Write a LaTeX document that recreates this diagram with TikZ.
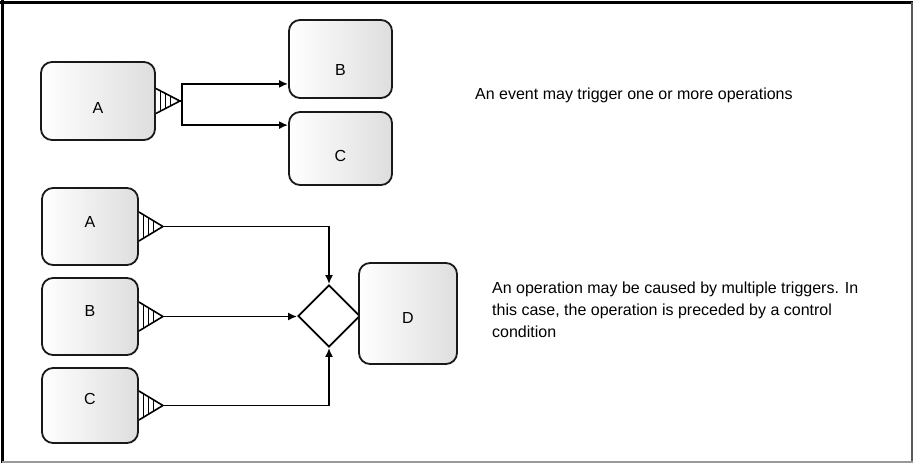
\documentclass[tikz,border=0pt]{standalone}
\usepackage{fontspec}
\setmainfont{Liberation Sans}
\usetikzlibrary{arrows.meta,shapes.geometric}

% hatched trigger on the right side of a box: box, half height, apex name
\newcommand{\trigger}[3]{%
  \draw[line width=1.6pt,line join=round,fill=white]
    ([yshift=#2]#1.east) -- ++(24,#2) coordinate (#3) -- ([yshift=-#2]#1.east);
  \foreach \d in {5,10,15}
    \draw[line width=1.1pt] ([shift={(\d,{#2*(1-\d/24)})}]#1.east)
      -- ([shift={(\d,{-#2*(1-\d/24)})}]#1.east);
}

\begin{document}
\begin{tikzpicture}[x=1pt,y=-1pt,>={Latex[length=9pt,width=8pt]},
    font=\fontsize{16}{16}\selectfont,
    opbox/.style={draw=black!90,line width=1.8pt,rounded corners=11pt,
      left color=white,right color=black!13,inner sep=0pt},
    flow/.style={line width=1.8pt,->},
    note/.style={anchor=north west,inner sep=0pt,align=left,
      font=\fontsize{16}{21.7}\selectfont}]
  \useasboundingbox (0,0) rectangle (913,463);
  % frame
  \draw[line width=3pt] (0,2.5) -- (913,2.5);
  \draw[line width=3pt] (2.5,0) -- (2.5,463);
  \draw[line width=2pt,black!65] (912,2) -- (912,463);
  \draw[line width=2pt,black!40] (2,462) -- (913,462);
  % one event, several operations
  \node[opbox,minimum width=114,minimum height=78,label={[yshift=-7]center:A}] (a1) at (98,101) {};
  \node[opbox,minimum width=103,minimum height=78,label={[yshift=-11]center:B}] (b1) at (340.5,59) {};
  \node[opbox,minimum width=103,minimum height=73,label={[yshift=-7]center:C}] (c1) at (340.5,148.5) {};
  \trigger{a1}{12.5}{a1t}
  \draw[line width=1.8pt] (a1t) -- ++(2,0) coordinate (fork);
  \draw[flow] (fork) |- ([yshift=15]b1.south west);
  \draw[flow] (fork) |- ([yshift=-14]c1.north west);
  \node[note] (note1) at (475,87.5) {An event may trigger one or more operations};
  % several triggers, one operation
  \node[opbox,minimum width=96,minimum height=77,label={[yshift=5]center:A}] (a2) at (90,226.5) {};
  \node[opbox,minimum width=96,minimum height=77,label={[yshift=6]center:B}] (b2) at (90,316.5) {};
  \node[opbox,minimum width=96,minimum height=75,label={[yshift=7]center:C}] (c2) at (90,405.5) {};
  \node[draw,diamond,line width=1.8pt,minimum width=62,minimum height=62,inner sep=0pt] (dia) at (329,316) {};
  \node[opbox,minimum width=98,minimum height=101,label={[yshift=-4]center:D}] (d) at (408,313.5) {};
  \trigger{a2}{14.5}{a2t}
  \trigger{b2}{14.5}{b2t}
  \trigger{c2}{14.5}{c2t}
  \draw[flow] (a2t) -| (dia.north);
  \draw[flow] (b2t) -- (dia.west |- b2t);
  \draw[flow] (c2t) -| (dia.south);
  \node[note] (note2) at (492,282) {An operation may be caused by multiple triggers. In\\
    this case, the operation is preceded by a control\\ condition};
\end{tikzpicture}
\end{document}
